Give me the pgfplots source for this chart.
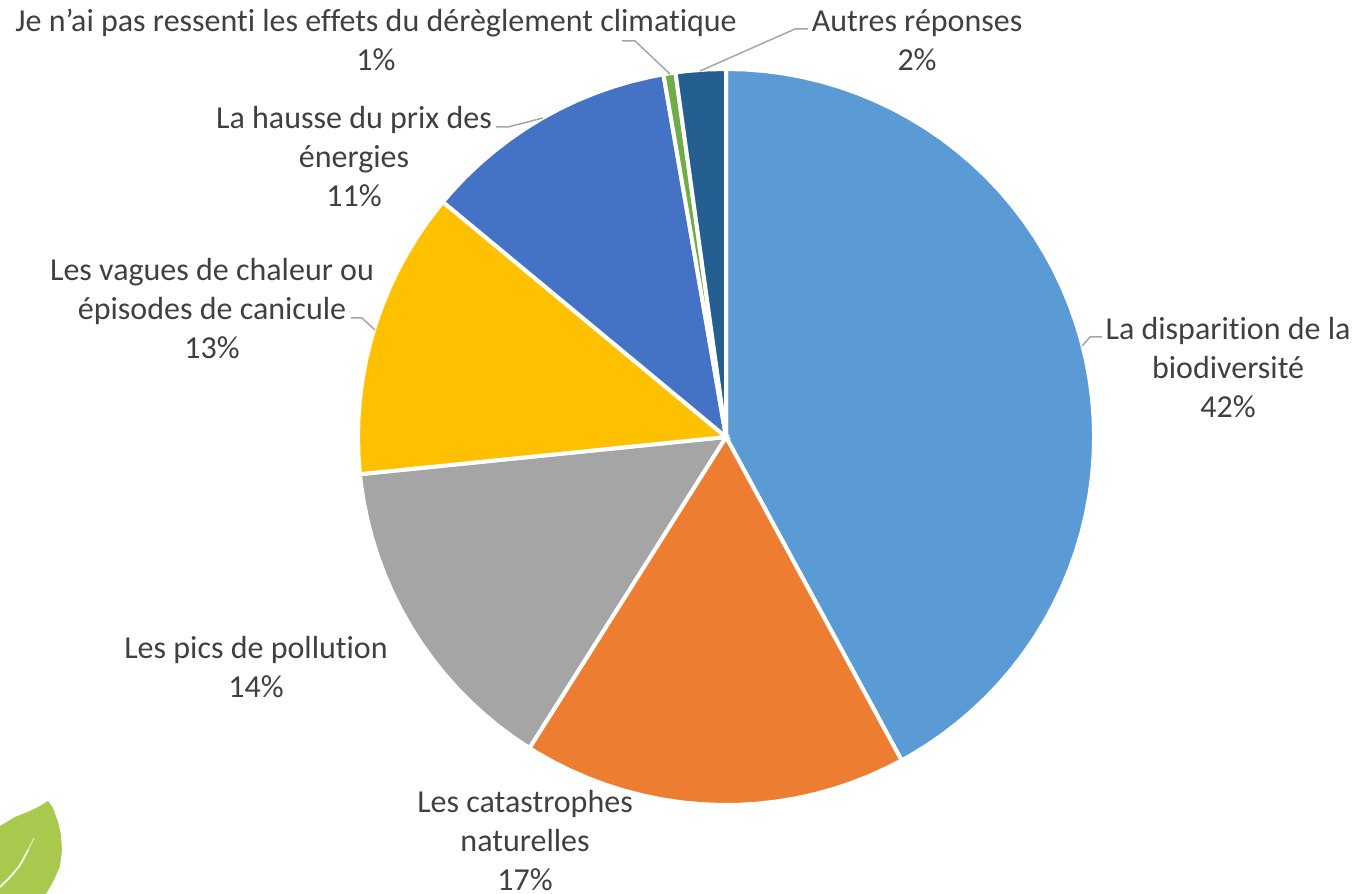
\documentclass[border=0pt]{standalone}
\usepackage{pgfplots}
\pgfplotsset{compat=1.18}
\usepackage{fontspec}
\setmainfont[Ligatures=CommonOff]{Carlito}
\definecolor{c1}{HTML}{5B9BD5}
\definecolor{c2}{HTML}{ED7D31}
\definecolor{c3}{HTML}{A5A5A5}
\definecolor{c4}{HTML}{FFC000}
\definecolor{c5}{HTML}{4472C4}
\definecolor{c6}{HTML}{70AD47}
\definecolor{c7}{HTML}{255E91}
\definecolor{txt}{HTML}{404040}
\definecolor{leader}{HTML}{A6A6A6}
\definecolor{leaf}{HTML}{A9C94E}
\tikzset{lab/.style={font=\fontsize{32}{39}\selectfont, text=txt, align=center, inner sep=0pt}}
\begin{document}
\begin{tikzpicture}
\path (0,0) rectangle (1353pt,894pt);
\begin{axis}[
  at={(0,0)}, anchor=south west,
  hide axis, scale only axis, width=1353pt, height=894pt,
  xmin=-726, xmax=627, ymin=-457, ymax=437,
  clip=true,
]
% leaf decoration
\addplot[fill=leaf, draw=none, forget plot] coordinates {(-726,-389) (-711,-380) (-696,-374) (-686,-369) (-678,-364) (-673,-371) (-668,-385) (-665,-398) (-664,-413) (-666,-429) (-672,-443) (-680,-457) (-726,-457)} --cycle;
\addplot[draw=white!60!leaf, line width=1.2pt, smooth, forget plot] coordinates {(-692,-401) (-698,-413) (-706,-428)};
\addplot[draw=white!90!leaf, line width=1.8pt, smooth, forget plot] coordinates {(-698,-413) (-706,-428) (-716,-440) (-726,-450)};
% pie wedges: (angle, radius), clockwise from the top
\pgfplotsset{wedge/.style={data cs=polar, fill=#1, draw=white, line width=4pt, line join=miter, forget plot}}
\addplot[wedge=c1] coordinates {(0,0) (90,368) (87,368) (84,368) (81,368) (78,368) (75,368) (72,368) (69,368) (66,368) (63,368) (60,368) (57,368) (54,368) (51,368) (48,368) (45,368) (42,368) (39,368) (36,368) (33,368) (30,368) (27,368) (24,368) (21,368) (18,368) (15,368) (12,368) (9,368) (6,368) (3,368) (0,368) (-3,368) (-6,368) (-9,368) (-12,368) (-15,368) (-18,368) (-21,368) (-24,368) (-27,368) (-30,368) (-33,368) (-36,368) (-39,368) (-42,368) (-45,368) (-48,368) (-51,368) (-54,368) (-57,368) (-60,368) (-61.5,368)} --cycle;
\addplot[wedge=c2] coordinates {(0,0) (-61.5,368) (-64,368) (-67,368) (-70,368) (-73,368) (-76,368) (-79,368) (-82,368) (-85,368) (-88,368) (-91,368) (-94,368) (-97,368) (-100,368) (-103,368) (-106,368) (-109,368) (-112,368) (-115,368) (-118,368) (-121,368) (-122.3,368)} --cycle;
\addplot[wedge=c3] coordinates {(0,0) (-122.3,368) (-125,368) (-128,368) (-131,368) (-134,368) (-137,368) (-140,368) (-143,368) (-146,368) (-149,368) (-152,368) (-155,368) (-158,368) (-161,368) (-164,368) (-167,368) (-170,368) (-173,368) (-174.2,368)} --cycle;
\addplot[wedge=c4] coordinates {(0,0) (-174.2,368) (-177,368) (-180,368) (-183,368) (-186,368) (-189,368) (-192,368) (-195,368) (-198,368) (-201,368) (-204,368) (-207,368) (-210,368) (-213,368) (-216,368) (-219,368) (-219.7,368)} --cycle;
\addplot[wedge=c5] coordinates {(0,0) (-219.7,368) (-222,368) (-225,368) (-228,368) (-231,368) (-234,368) (-237,368) (-240,368) (-243,368) (-246,368) (-249,368) (-252,368) (-255,368) (-258,368) (-260.2,368)} --cycle;
\addplot[wedge=c6] coordinates {(0,0) (-260.2,368) (-261,368) (-262.1,368)} --cycle;
\addplot[wedge=c7] coordinates {(0,0) (-262.1,368) (-264,368) (-267,368) (-270,368)} --cycle;
% leader lines
\pgfplotsset{lead/.style={draw=leader, line width=1.5pt, forget plot}}
\addplot[lead] coordinates {(-26,366) (69,408) (82,408)};
\addplot[lead] coordinates {(-104,396) (-91,396) (-56,363)};
\addplot[lead] coordinates {(-230,310) (-218,310) (-183,319)};
\addplot[lead] coordinates {(376,100) (364,100) (356,91)};
\addplot[lead] coordinates {(-375,119) (-364,119) (-351,107)};
% labels
\node[lab] at (axis cs:502,69) {La disparition de la\\biodiversité\\42\%};
\node[lab] at (axis cs:-201,-404) {Les catastrophes\\naturelles\\17\%};
\node[lab] at (axis cs:-470,-230) {Les pics de pollution\\14\%};
\node[lab] at (axis cs:-514,128) {Les vagues de chaleur ou\\épisodes de canicule\\13\%};
\node[lab] at (axis cs:-372,280) {La hausse du prix des\\énergies\\11\%};
\node[lab] at (axis cs:-350,397) {Je n’ai pas ressenti les effets du dérèglement climatique\\1\%};
\node[lab] at (axis cs:191,397) {Autres réponses\\2\%};
\end{axis}
\end{tikzpicture}
\end{document}
